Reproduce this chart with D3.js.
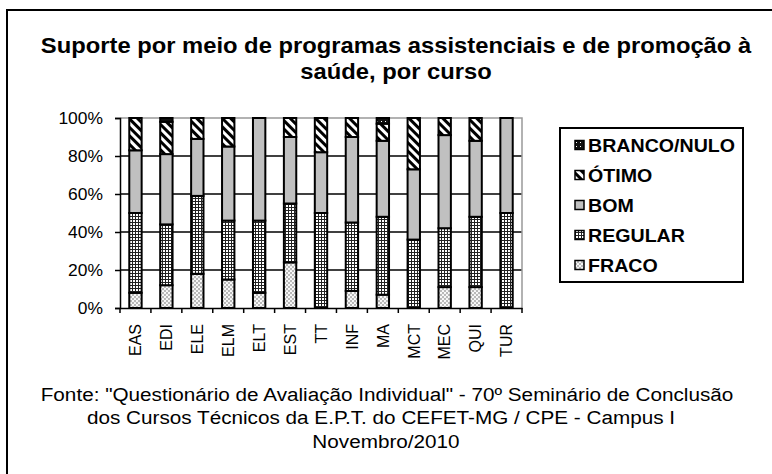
<!DOCTYPE html>
<html>
<head>
<meta charset="utf-8">
<script src="https://cdn.jsdelivr.net/npm/d3@7"></script>
<style>
  body { margin: 0; background: #fff; }
  text { font-family: "Liberation Sans", Arial, sans-serif; }
</style>
</head>
<body>
<div id="chart"></div>
<script>
var width = 772;
var height = 474;
var stretch = 1.09; // the original text is a bit wide

// data (percent per course)
var categories = ["EAS", "EDI", "ELE", "ELM", "ELT", "EST", "TT", "INF", "MA", "MCT", "MEC", "QUI", "TUR"];
var fraco   = [8, 12, 18, 15, 8, 24, 0, 9, 7, 0, 11, 11, 0];
var regular = [42, 32, 41, 31, 38, 31, 50, 36, 41, 36, 31, 37, 50];
var bom     = [33, 37, 30, 39, 54, 35, 32, 45, 40, 37, 49, 40, 50];
var otimo   = [17, 17, 11, 15, 0, 10, 18, 10, 9, 27, 9, 12, 0];
var branco  = [0, 2, 0, 0, 0, 0, 0, 0, 3, 0, 0, 0, 0];
var keys = ["FRACO", "REGULAR", "BOM", "ÓTIMO", "BRANCO/NULO"];
var yTicks = [0, 0.2, 0.4, 0.6, 0.8, 1];

var rows = categories.map(function (c, i) {
  return { curso: c, "FRACO": fraco[i], "REGULAR": regular[i], "BOM": bom[i], "ÓTIMO": otimo[i], "BRANCO/NULO": branco[i] };
});

var svg = d3.select("#chart").append("svg")
  .attr("width", width)
  .attr("height", height);

/* patterns */
var defs = svg.append("defs");

var pFraco = defs.append("pattern").attr("id", "p-fraco")
  .attr("patternUnits", "userSpaceOnUse").attr("width", 4).attr("height", 4);
pFraco.append("rect").attr("width", 4).attr("height", 4).attr("fill", "#b8b8b8");
pFraco.append("circle").attr("cx", 1).attr("cy", 1).attr("r", 1.1).attr("fill", "#fff");
pFraco.append("circle").attr("cx", 3).attr("cy", 3).attr("r", 1.1).attr("fill", "#fff");

var pReg = defs.append("pattern").attr("id", "p-regular")
  .attr("patternUnits", "userSpaceOnUse").attr("width", 3).attr("height", 3);
pReg.append("rect").attr("width", 3).attr("height", 3).attr("fill", "#222");
pReg.append("rect").attr("x", 1).attr("y", 1).attr("width", 2).attr("height", 2).attr("fill", "#fff");

var pOt = defs.append("pattern").attr("id", "p-otimo")
  .attr("patternUnits", "userSpaceOnUse").attr("width", 6).attr("height", 6)
  .attr("patternTransform", "rotate(-45)");
pOt.append("rect").attr("width", 6).attr("height", 6).attr("fill", "#fff");
pOt.append("rect").attr("width", 3).attr("height", 6).attr("fill", "#000");

var pBr = defs.append("pattern").attr("id", "p-branco")
  .attr("patternUnits", "userSpaceOnUse").attr("width", 4).attr("height", 4);
pBr.append("rect").attr("width", 4).attr("height", 4).attr("fill", "#111");
pBr.append("rect").attr("x", 1).attr("y", 1).attr("width", 1).attr("height", 1).attr("fill", "#fff");

var fills = {
  "FRACO": "url(#p-fraco)",
  "REGULAR": "url(#p-regular)",
  "BOM": "#c0c0c0",
  "ÓTIMO": "url(#p-otimo)",
  "BRANCO/NULO": "url(#p-branco)"
};

// text line placed at (x, y), widened a little
function wideText(parent, x, y, txt) {
  return parent.append("text")
    .attr("transform", "translate(" + x + "," + y + ") scale(" + stretch + ",1)")
    .text(txt);
}

/* outer frame */
svg.append("rect")
  .attr("x", 7).attr("y", 10)
  .attr("width", 800).attr("height", 500)
  .attr("fill", "none").attr("stroke", "#000").attr("stroke-width", 2);

/* title */
var title = svg.append("g")
  .attr("text-anchor", "middle")
  .attr("font-size", "21.8px")
  .attr("font-weight", "bold");
wideText(title, 396, 53, "Suporte por meio de programas assistenciais e de promoção à");
wideText(title, 396, 79, "saúde, por curso");

/* scales */
var x = d3.scaleBand().domain(categories).range([120, 522]).paddingInner(0.6).paddingOuter(0.3);
var y = d3.scaleLinear().domain([0, 1]).range([308, 118]);

// grid
svg.append("g").selectAll("line")
  .data(yTicks.filter(function (d) { return d > 0 && d < 1; }))
  .enter().append("line")
  .attr("x1", 120).attr("x2", 522)
  .attr("y1", function (d) { return y(d); }).attr("y2", function (d) { return y(d); })
  .attr("stroke", "#000").attr("stroke-width", 1.5);

// plot border top / right (gray)
svg.append("path")
  .attr("d", "M120," + y(1) + "H522V" + y(0))
  .attr("fill", "none").attr("stroke", "#999").attr("stroke-width", 1.5);

/* bars */
var stack = d3.stack().keys(keys).value(function (d, k) { return d[k] / 100; });
var series = stack(rows);

svg.append("g").selectAll("g")
  .data(series)
  .enter().append("g")
  .attr("fill", function (d) { return fills[d.key]; })
  .selectAll("rect")
  .data(function (d) { return d.filter(function (p) { return p[1] - p[0] > 0; }); })
  .enter().append("rect")
  .attr("x", function (d) { return x(d.data.curso); })
  .attr("y", function (d) { return y(d[1]); })
  .attr("width", x.bandwidth())
  .attr("height", function (d) { return y(d[0]) - y(d[1]); })
  .attr("stroke", "#000")
  .attr("stroke-width", 2);

/* y axis */
var yAxis = svg.append("g")
  .attr("transform", "translate(120,0)")
  .call(d3.axisLeft(y).tickValues(yTicks).tickFormat(d3.format(".0%")).tickSize(5));
yAxis.select(".domain").attr("stroke", "#000").attr("stroke-width", 1.5);
yAxis.selectAll(".tick line").attr("stroke", "#000").attr("stroke-width", 1.5);
yAxis.selectAll(".tick text")
  .attr("x", null).attr("dy", null)
  .attr("transform", "translate(-17,5.5) scale(" + stretch + ",1)")
  .attr("font-size", "16px").attr("fill", "#000")
  .style("font-family", "'Liberation Sans', Arial, sans-serif");

/* x axis */
var xAxis = svg.append("g")
  .attr("transform", "translate(0," + y(0) + ")")
  .call(d3.axisBottom(x).tickSize(0).tickPadding(0));
xAxis.select(".domain").attr("stroke", "#000").attr("stroke-width", 1.5);
xAxis.selectAll(".tick text")
  .attr("font-size", "16px").attr("fill", "#000")
  .style("font-family", "'Liberation Sans', Arial, sans-serif")
  .attr("text-anchor", "end")
  .attr("transform", "translate(0,16) rotate(-90)")
  .attr("x", 0).attr("y", 0).attr("dy", "0.36em");

// boundary ticks between categories
var bounds = d3.range(categories.length + 1).map(function (i) { return 120 + i * x.step(); });
xAxis.selectAll(".bound")
  .data(bounds)
  .enter().append("line")
  .attr("class", "bound")
  .attr("x1", function (d) { return d; }).attr("x2", function (d) { return d; })
  .attr("y1", 0).attr("y2", 5)
  .attr("stroke", "#000").attr("stroke-width", 1.5);

/* legend */
var legendKeys = keys.slice().reverse();
var legend = svg.append("g").attr("transform", "translate(560,128)");
legend.append("rect")
  .attr("width", 183).attr("height", 154)
  .attr("fill", "#fff").attr("stroke", "#000").attr("stroke-width", 2);

var item = legend.selectAll(".item")
  .data(legendKeys)
  .enter().append("g")
  .attr("class", "item")
  .attr("transform", function (d, i) { return "translate(15," + (17 + i * 30) + ")"; });
item.append("rect")
  .attr("x", 0).attr("y", -4.5)
  .attr("width", 9).attr("height", 9)
  .attr("fill", function (d) { return fills[d]; })
  .attr("stroke", "#000").attr("stroke-width", 1.5);
item.append("text")
  .attr("transform", "translate(13,6.5) scale(" + stretch + ",1)")
  .attr("font-size", "18px").attr("font-weight", "bold")
  .text(function (d) { return d; });

/* footnote */
var foot = svg.append("g")
  .attr("text-anchor", "middle")
  .attr("font-size", "19px");
wideText(foot, 387, 401, "Fonte: \"Questionário de Avaliação Individual\" - 70º Seminário de Conclusão");
wideText(foot, 381, 424, "dos Cursos Técnicos da E.P.T. do CEFET-MG / CPE - Campus I");
wideText(foot, 386, 448, "Novembro/2010");
</script>
</body>
</html>
